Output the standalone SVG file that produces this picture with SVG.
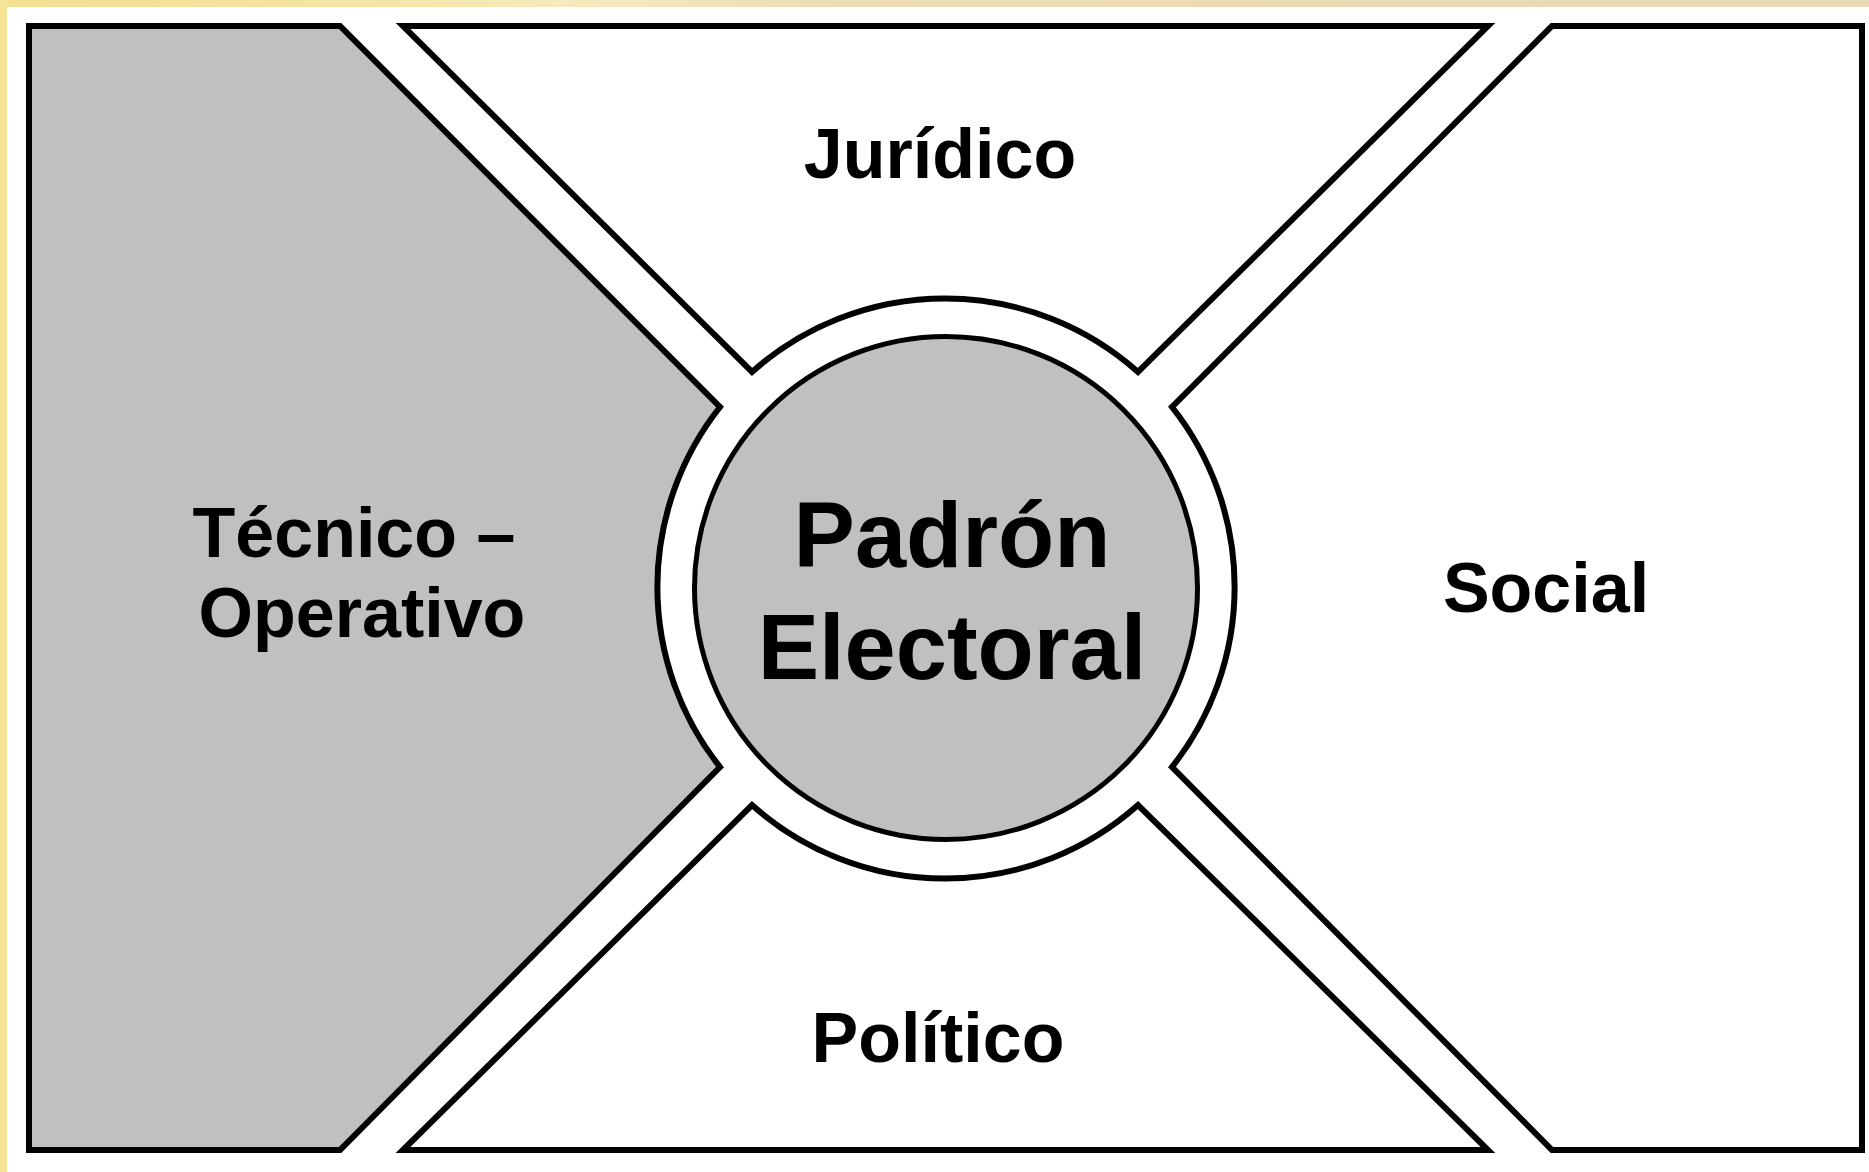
<svg xmlns="http://www.w3.org/2000/svg" width="1869" height="1172" viewBox="0 0 1869 1172">
  <defs>
    <linearGradient id="topband" x1="0" y1="0" x2="1" y2="0">
      <stop offset="0" stop-color="#f3df92"/>
      <stop offset="0.2" stop-color="#f4e4a4"/>
      <stop offset="0.3" stop-color="#f6ebbd"/>
      <stop offset="0.45" stop-color="#ecdcb4"/>
      <stop offset="1" stop-color="#e9d8b6"/>
    </linearGradient>
  </defs>
  <style>
    .seg { stroke: #000; stroke-width: 6; stroke-linejoin: miter; }
    .gray { fill: #c0c0c0; }
    .white { fill: #ffffff; }
    .lbl { font-family: "Liberation Sans", Arial, sans-serif; font-weight: bold; fill: #000; text-anchor: middle; }
    .side { font-size: 70px; }
    .core { font-size: 92px; }
  </style>
  <rect x="0" y="0" width="1869" height="1172" fill="#ffffff"/>
  <rect x="0" y="0" width="1869" height="7" fill="url(#topband)"/>
  <rect x="0" y="0" width="7" height="1172" fill="#f5e398"/>

  <g id="tecnico-operativo">
    <path class="seg gray" d="M29,26 L340,26 L720,407 A290,290 0 0 0 720,767 L340,1150 L29,1150 Z"/>
    <text class="lbl side" x="354" y="557">Técnico –</text>
    <text class="lbl side" x="362" y="637">Operativo</text>
  </g>
  <g id="juridico">
    <path class="seg white" d="M403,26 L1488,26 L1138,372 A290,290 0 0 0 752,372 Z"/>
    <text class="lbl side" x="940" y="178">Jurídico</text>
  </g>
  <g id="social">
    <path class="seg white" d="M1552,26 L1862,26 L1862,1150 L1552,1150 L1172,767 A290,290 0 0 0 1172,407 Z"/>
    <text class="lbl side" x="1546" y="612">Social</text>
  </g>
  <g id="politico">
    <path class="seg white" d="M403,1150 L752,805 A290,290 0 0 0 1138,805 L1488,1150 Z"/>
    <text class="lbl side" x="938" y="1062">Político</text>
  </g>
  <g id="padron-electoral">
    <circle cx="946" cy="588" r="251.5" fill="#c0c0c0" stroke="#000" stroke-width="5"/>
    <text class="lbl core" x="952" y="567">Padrón</text>
    <text class="lbl core" x="952" y="679">Electoral</text>
  </g>
  <g id="connectors"/>
</svg>
